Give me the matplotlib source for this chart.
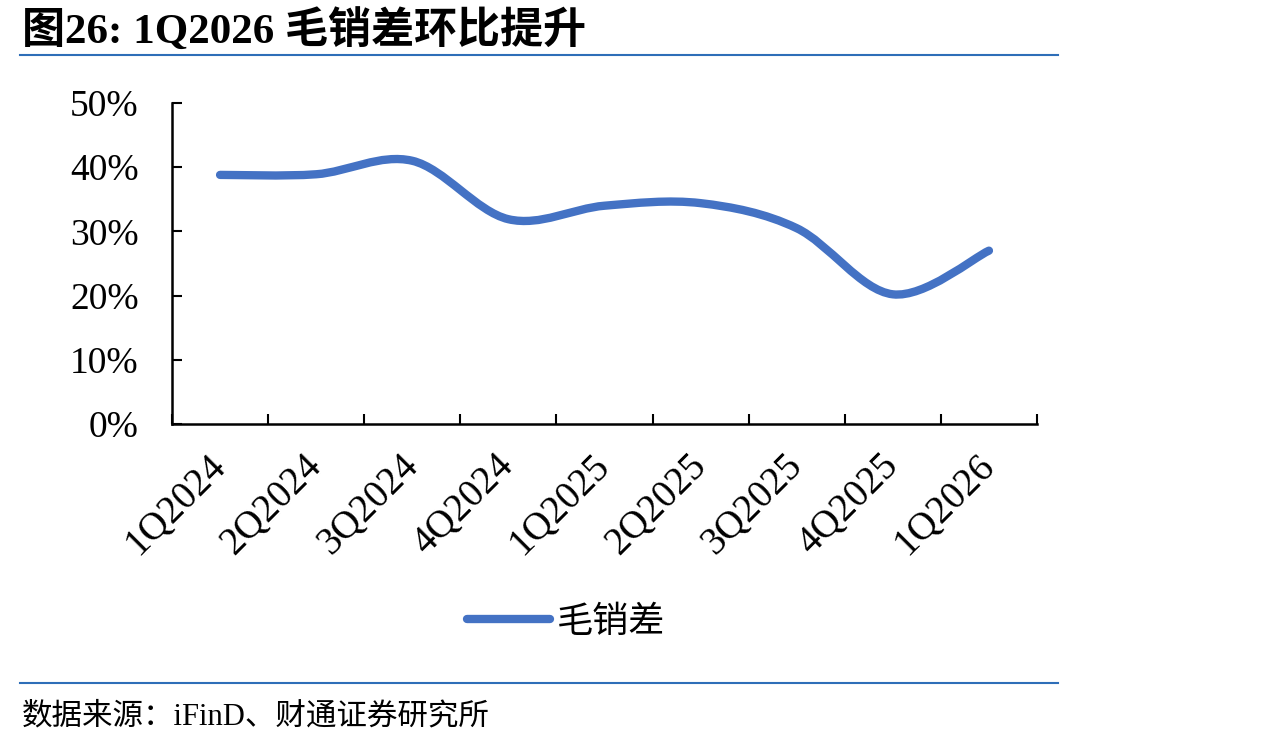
import matplotlib.pyplot as plt
import matplotlib.lines as mlines
from matplotlib.path import Path
from matplotlib.patches import PathPatch
from matplotlib.ticker import FixedLocator, PercentFormatter

plt.rcParams['font.family'] = ['Liberation Serif', 'Noto Sans CJK SC']

quarters = ['1Q2024', '2Q2024', '3Q2024', '4Q2024', '1Q2025',
            '2Q2025', '3Q2025', '4Q2025', '1Q2026']
spread = [38.8, 38.9, 41.0, 31.9, 34.0, 34.4, 30.5, 20.2, 27.0]

title = '图26: 1Q2026 毛销差环比提升'
series_name = '毛销差'
source = '数据来源：iFinD、财通证券研究所'

blue = '#4472C4'
rule = '#2E6EB8'


def smooth_path(xs, ys):
    # Excel-style smoothed line: cubic Bezier through every point
    pts = list(zip(xs, ys))
    n = len(pts)
    verts = [pts[0]]
    codes = [Path.MOVETO]
    for i in range(n - 1):
        p0 = pts[i - 1] if i > 0 else pts[i]
        p1 = pts[i]
        p2 = pts[i + 1]
        p3 = pts[i + 2] if i + 2 < n else pts[i + 1]
        c1 = (p1[0] + (p2[0] - p0[0]) / 6, p1[1] + (p2[1] - p0[1]) / 6)
        c2 = (p2[0] - (p3[0] - p1[0]) / 6, p2[1] - (p3[1] - p1[1]) / 6)
        verts += [c1, c2, p2]
        codes += [Path.CURVE4] * 3
    return Path(verts, codes)


fig = plt.figure(figsize=(12.74, 7.47), dpi=100)
ax = fig.add_axes([172 / 1274, 1 - 424 / 747, (1037 - 172) / 1274, (424 - 103) / 747])

x = list(range(len(quarters)))
ax.add_patch(PathPatch(smooth_path(x, spread), facecolor='none', edgecolor=blue,
                       lw=6, capstyle='round', joinstyle='round', zorder=3))

ax.set_xlim(-0.5, len(quarters) - 0.5)
ax.set_ylim(0, 50)
ax.xaxis.set_major_locator(FixedLocator([i - 0.5 for i in range(len(quarters) + 1)]))
ax.xaxis.set_minor_locator(FixedLocator(x))
ax.set_xticklabels([])
ax.set_xticklabels(quarters, minor=True, rotation=45, ha='right',
                   rotation_mode='anchor', va='center')
ax.tick_params(axis='x', which='minor', length=0, pad=26, labelsize=28)
ax.tick_params(axis='x', which='major', direction='in', length=7.5, width=1.5)
ax.set_yticks(range(0, 51, 10))
ax.yaxis.set_major_formatter(PercentFormatter(decimals=0))
ax.tick_params(axis='y', direction='in', length=7.5, width=1.5, labelsize=27, pad=24)

for s in ['top', 'right']:
    ax.spines[s].set_visible(False)
for s in ['left', 'bottom']:
    ax.spines[s].set_linewidth(1.8)

handle = mlines.Line2D([], [], color=blue, lw=6, solid_capstyle='round')
fig.legend([handle], [series_name], loc='center', bbox_to_anchor=(566 / 1274, 1 - 622 / 747),
           frameon=False, handlelength=2.3, handletextpad=0.2,
           prop={'family': 'Noto Sans CJK SC', 'size': 26})

fig.text(22 / 1274, 1 - 30 / 747, title, fontsize=31, fontweight='bold',
         va='center', ha='left')
fig.add_artist(mlines.Line2D([20 / 1274, 1058 / 1274], [1 - 55 / 747] * 2, color=rule, lw=1.5))
fig.add_artist(mlines.Line2D([20 / 1274, 1058 / 1274], [1 - 683 / 747] * 2, color=rule, lw=1.5))
fig.text(22 / 1274, 1 - 717 / 747, source, fontsize=22, va='center', ha='left')

fig.savefig('out.png', dpi=100)
